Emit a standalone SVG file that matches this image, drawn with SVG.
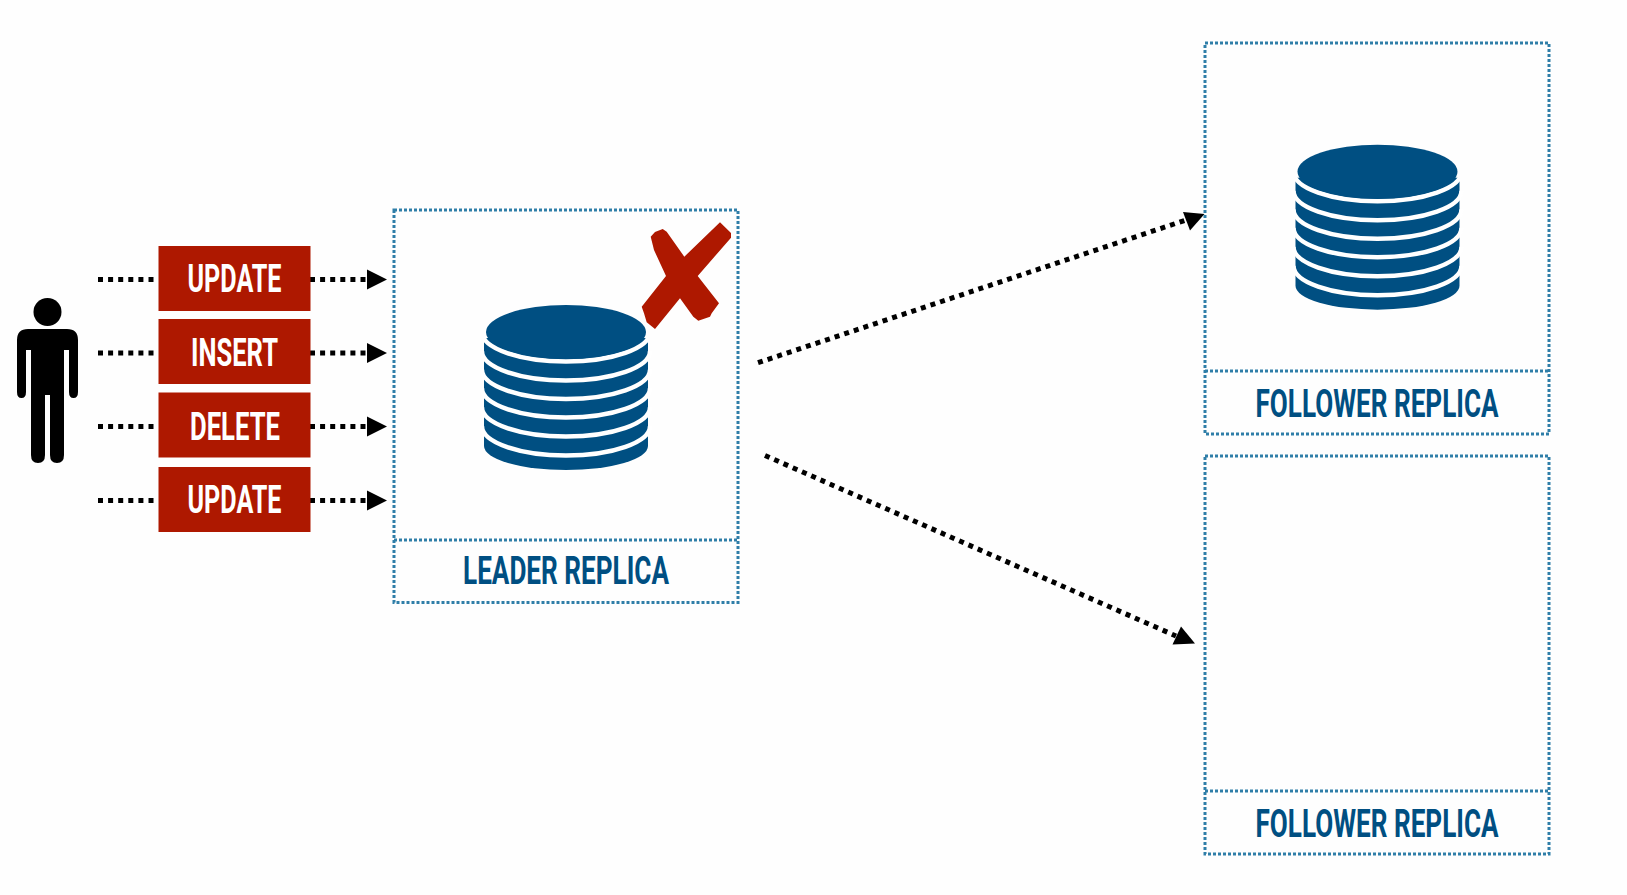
<svg xmlns="http://www.w3.org/2000/svg" xmlns:xlink="http://www.w3.org/1999/xlink" width="1627" height="895" viewBox="0 0 1627 895">
<style>
.frame{fill:none;stroke:#2f7ea8;stroke-width:3;stroke-dasharray:3 2}
.dots{fill:none;stroke:#000;stroke-width:5;stroke-dasharray:5 5.100}
.op{fill:#ae1800}
.opt{font-family:"Roboto","Liberation Sans",sans-serif;font-weight:700;font-size:38.500px;fill:#fff;text-anchor:middle}
.lbl{font-family:"Roboto","Liberation Sans",sans-serif;font-weight:700;font-size:39.500px;fill:#004f82;text-anchor:middle}
.head{fill:#000}
</style>
<defs>
<g id="db">
<path d="M484,338 L484,446 A82,24 0 0 0 648,446 L648,338 Z" fill="#004f82"/>
<g fill="none" stroke="#fff" stroke-width="4.400">
<path d="M482,332 A84,29.500 0 0 0 650,332"/>
<path d="M482,351 A84,29.500 0 0 0 650,351"/>
<path d="M482,369.500 A84,29.500 0 0 0 650,369.500"/>
<path d="M482,388 A84,29.500 0 0 0 650,388"/>
<path d="M482,407 A84,29.500 0 0 0 650,407"/>
<path d="M482,426 A84,29.500 0 0 0 650,426"/>
</g>
<rect x="478" y="300" width="6" height="40" fill="#fefefe"/>
<rect x="648" y="300" width="6" height="40" fill="#fefefe"/>
<ellipse cx="566" cy="332" rx="80" ry="27" fill="#004f82"/>
</g>
</defs>
<rect width="1627" height="895" fill="#fefefe"/>
<g id="connectors">
<path class="dots" d="M98,279.500H155M98,353H155M98,426.500H155M98,500.500H155"/>
<path class="dots" d="M310,279.500H367M310,353H367M310,426.500H367M310,500.500H367"/>
<path class="head" d="M367,269.500L387,279.500L367,289.500ZM367,343L387,353L367,363ZM367,416.500L387,426.500L367,436.500ZM367,490.500L387,500.500L367,510.500Z"/>
<path class="dots" d="M758,362.700L1186,220"/>
<path class="head" d="M1204.500,214L1183,212L1190,230.500Z"/>
<path class="dots" d="M765,455.500L1176,636"/>
<path class="head" d="M1195,643.500L1181,626.500L1172.500,644.500Z"/>
</g>
<g id="person">
<circle cx="47.500" cy="312" r="14"/>
<path d="M28,329H67Q78,329 78,340V392Q78,398 73.500,398Q69,398 69,392V350H64V455Q64,463 57,463Q50,463 50,455V395H45V455Q45,463 38,463Q31,463 31,455V350H26V392Q26,398 21.500,398Q17,398 17,392V340Q17,329 28,329Z"/>
</g>
<g id="op-update-1"><rect class="op" x="158.500" y="246" width="152" height="65"/><text class="opt" x="234.500" y="292" textLength="94" lengthAdjust="spacingAndGlyphs">UPDATE</text></g>
<g id="op-insert"><rect class="op" x="158.500" y="319" width="152" height="65"/><text class="opt" x="234.500" y="365.500" textLength="87" lengthAdjust="spacingAndGlyphs">INSERT</text></g>
<g id="op-delete"><rect class="op" x="158.500" y="392.500" width="152" height="65"/><text class="opt" x="235" y="439.500" textLength="90" lengthAdjust="spacingAndGlyphs">DELETE</text></g>
<g id="op-update-2"><rect class="op" x="158.500" y="467" width="152" height="65"/><text class="opt" x="234.500" y="513" textLength="94" lengthAdjust="spacingAndGlyphs">UPDATE</text></g>
<g id="leader">
<rect class="frame" x="394" y="210" width="344" height="392.500"/>
<path class="frame" d="M394,540H738"/>
<use href="#db" xlink:href="#db"/>
<path d="M650.700,236.700L655,232L662.700,229L666.700,231.700L684.300,256.700L720,222.300L731,233L731,237.700L697.700,276L719,303.300L711.700,313.300L710,316.700L698.300,320.700L693.300,316.700L680,298.300L655,329L646.700,322.300L644,313.300L641.700,306.700L666,276L654,250Z" fill="#ae1800"/>
<text class="lbl" x="566" y="584" textLength="206" lengthAdjust="spacingAndGlyphs">LEADER REPLICA</text>
</g>
<g id="follower-1">
<rect class="frame" x="1205" y="43" width="344" height="391"/>
<path class="frame" d="M1205,371H1549"/>
<use href="#db" xlink:href="#db" transform="translate(811.500,-160.300)"/>
<text class="lbl" x="1377" y="417" textLength="243" lengthAdjust="spacingAndGlyphs">FOLLOWER REPLICA</text>
</g>
<g id="follower-2">
<rect class="frame" x="1205" y="456" width="344" height="398"/>
<path class="frame" d="M1205,791H1549"/>
<text class="lbl" x="1377" y="837" textLength="243" lengthAdjust="spacingAndGlyphs">FOLLOWER REPLICA</text>
</g>
</svg>
